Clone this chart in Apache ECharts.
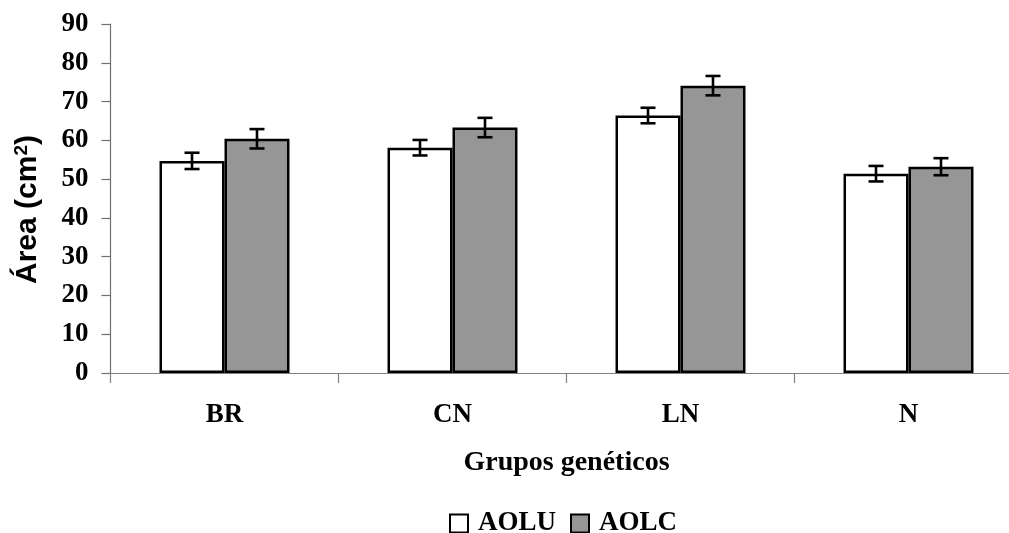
<!DOCTYPE html>
<html>
<head>
<meta charset="utf-8">
<script src="https://cdn.jsdelivr.net/npm/echarts@6/dist/echarts.min.js"></script>
<style>html,body{margin:0;padding:0;background:#fff;}#c{width:1009px;height:533px;}</style>
</head>
<body>
<div id="c"></div>
<script>
var categories = ['BR', 'CN', 'LN', 'N'];
var aoluValues = [54.7, 58.1, 66.4, 51.4];
var aoluErrors = [2.1, 2.0, 2.0, 2.0];
var aolcValues = [60.4, 63.3, 74.1, 53.2];
var aolcErrors = [2.5, 2.5, 2.5, 2.2];
var yTicks = [0, 10, 20, 30, 40, 50, 60, 70, 80, 90];

var serif = '"Liberation Serif", "Times New Roman", serif';
var sans = '"Liberation Sans", Arial, sans-serif';
var BAR_FRAC = 0.285;

function errSeries(values, errors, side) {
  return {
    type: 'custom',
    z: 10,
    silent: true,
    data: values.map(function (v, i) { return [i, v, errors[i]]; }),
    renderItem: function (params, api) {
      var idx = api.value(0);
      var v = api.value(1), e = api.value(2);
      var band = api.size([1, 0])[0];
      var bw = band * BAR_FRAC;
      var c = api.coord([idx, v]);
      var x = c[0] + side * bw / 2;
      var top = api.coord([idx, v + e])[1];
      var bot = api.coord([idx, v - e])[1];
      var hw = 7.5;
      var st = { stroke: '#000', lineWidth: 2.6 };
      return {
        type: 'group',
        children: [
          { type: 'line', shape: { x1: x, y1: top, x2: x, y2: bot }, style: st },
          { type: 'line', shape: { x1: x - hw, y1: top, x2: x + hw, y2: top }, style: st },
          { type: 'line', shape: { x1: x - hw, y1: bot, x2: x + hw, y2: bot }, style: st }
        ]
      };
    }
  };
}

var chart = echarts.init(document.getElementById('c'), null, { renderer: 'canvas' });
chart.setOption({
  animation: false,
  backgroundColor: '#fff',
  grid: { left: 110.5, top: 24, width: 912, height: 349, containLabel: false, outerBoundsMode: 'none' },
  legend: {
    left: 449,
    top: 510,
    padding: 0,
    itemWidth: 18,
    itemHeight: 18,
    itemGap: 14,
    icon: 'rect',
    textStyle: { fontFamily: serif, fontWeight: 'bold', fontSize: 27, color: '#000', padding: [2, 0, 0, 5] },
    data: ['AOLU', 'AOLC']
  },
  xAxis: {
    type: 'category',
    data: categories,
    name: 'Grupos genéticos',
    nameLocation: 'middle',
    nameGap: 76,
    nameTextStyle: { fontFamily: serif, fontWeight: 'bold', fontSize: 28, color: '#000' },
    axisLine: { lineStyle: { color: '#808080', width: 1.2 } },
    axisTick: { show: true, length: 10, alignWithLabel: false, lineStyle: { color: '#808080', width: 1.2 } },
    axisLabel: { fontFamily: serif, fontWeight: 'bold', fontSize: 27, color: '#000', margin: 29 }
  },
  yAxis: {
    type: 'value',
    min: 0,
    max: 90,
    interval: 10,
    name: '{t|Área (cm}{s|2}{t|)}',
    nameLocation: 'middle',
    nameRotate: 90,
    nameGap: 68,
    nameTextStyle: {
      padding: [0, 22, 0, 0],
      rich: {
        t: { fontFamily: sans, fontWeight: 'bold', fontSize: 30, color: '#000', lineHeight: 30 },
        s: { fontFamily: sans, fontWeight: 'bold', fontSize: 19, color: '#000', lineHeight: 30, verticalAlign: 'top', padding: [0, 0, 14, 0] }
      }
    },
    splitLine: { show: false },
    axisLine: { show: true, lineStyle: { color: '#707070', width: 1.2 } },
    axisTick: { show: true, length: 9, lineStyle: { color: '#707070', width: 1.2 } },
    axisLabel: {
      fontFamily: serif, fontWeight: 'bold', fontSize: 27, color: '#000', margin: 22,
      formatter: function (v) { return yTicks.indexOf(v) >= 0 ? String(v) : ''; }
    }
  },
  series: [
    {
      name: 'AOLU', type: 'bar', data: aoluValues, barWidth: (BAR_FRAC * 100) + '%', barGap: '0%',
      itemStyle: { color: '#ffffff', borderColor: '#000', borderWidth: 2.5 }
    },
    {
      name: 'AOLC', type: 'bar', data: aolcValues, barWidth: (BAR_FRAC * 100) + '%', barGap: '0%',
      itemStyle: { color: '#969696', borderColor: '#000', borderWidth: 2.5 }
    },
    errSeries(aoluValues, aoluErrors, -1),
    errSeries(aolcValues, aolcErrors, 1)
  ]
});
</script>
</body>
</html>
